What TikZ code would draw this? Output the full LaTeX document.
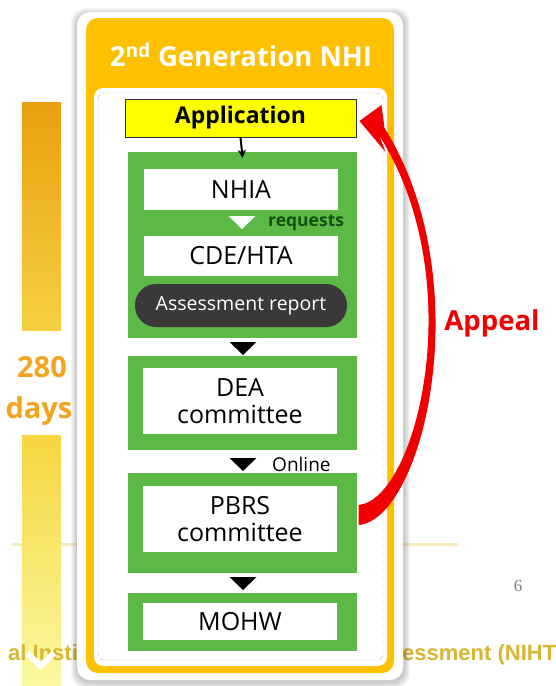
\documentclass[tikz,border=0pt]{standalone}
\usepackage{fontspec}
\setmainfont{Open Sans}
\newfontfamily\footfont{Liberation Sans}
\newfontfamily\pagefont{Liberation Serif}
\usepackage{tikz}
\usetikzlibrary{arrows.meta,calc,positioning}
\definecolor{nhigreen}{RGB}{92,185,70}
\definecolor{nhiorange}{RGB}{255,192,0}
\definecolor{appyellow}{RGB}{255,255,0}
\definecolor{pillgray}{RGB}{58,56,56}
\definecolor{appealred}{RGB}{240,0,0}
\definecolor{daysorange}{RGB}{243,163,30}
\definecolor{reqgreen}{RGB}{20,80,20}
\definecolor{footcol}{RGB}{214,182,50}
\definecolor{rulecol}{RGB}{247,236,190}
\definecolor{bara}{RGB}{232,160,14}
\definecolor{barb}{RGB}{246,208,66}
\definecolor{barc}{RGB}{246,214,64}
\definecolor{bard}{RGB}{250,248,160}
\newcommand{\fsz}[2]{\fontsize{#1}{#2}\selectfont}
\newcommand{\dtri}[3]{\fill[#3] ({#1-13.5},#2) -- ({#1+13.5},#2) -- (#1,{#2+13}) -- cycle;}
\tikzset{gbox/.style={rectangle, fill=nhigreen, minimum width=229pt, minimum height=#1, inner sep=0pt},
         wbox/.style={rectangle, fill=white, minimum width=194pt, minimum height=#1, inner sep=0pt,
            align=center, font=\fsz{25}{27}},
         pill/.style={rectangle, rounded corners=21pt, fill=pillgray, text=white, minimum width=212pt,
            minimum height=43pt, inner sep=0pt, font=\fsz{19.5}{22}},
         days/.style={text=daysorange, font=\bfseries\fsz{29}{31}, inner sep=0pt},
         foot/.style={text=footcol, font=\footfont\bfseries\fsz{22}{24}, inner sep=0pt},
         note/.style={anchor=west, inner sep=0pt, font=\fsz{19}{21}}}

\begin{document}
\begin{tikzpicture}[x=1pt,y=-1pt]
\clip (0,0) rectangle (555,686);
\fill[white] (0,0) rectangle (555,686);
% faint rule behind the panel
\draw[line width=3pt, rulecol] (12,544) -- (458,544);
% 280 days bar
\shade[top color=bara, bottom color=barb] (22,102) rectangle (61,330);
\shade[top color=barc, bottom color=bard] (22,435) rectangle (61,686);
\node[days] (d1) at (42,367) {280};
\node[days] (d2) at (39,411) {days};
\node[foot, anchor=base west] (fl) at (8,660) {al Insti};
\draw[white, line width=6pt] (27,653) -- (40.5,666) -- (54,653);
\node[foot, anchor=base west] (fr) at (402,660) {essment (NIHT};
\node[anchor=base, text=gray, font=\pagefont\fsz{17}{20}, inner sep=0pt] (pg) at (518,591) {6};
% panel
\foreach \d in {1,...,6}
  \fill[black, opacity=0.035, rounded corners=14pt] ({77-\d},{12-\d+2}) rectangle ({403+\d+1},{680+\d+2});
\fill[white, rounded corners=13pt] (77,12) rectangle (403,680);
\fill[nhiorange, rounded corners=12pt] (86,18) rectangle (394,673);
\fill[white, rounded corners=9pt] (94,88) rectangle (387,666);
\draw[gray!55, dash pattern=on 5pt off 3pt, rounded corners=6pt] (98,93) rectangle (383,660);
\node[text=white, font=\bfseries\fsz{27.5}{30}, inner sep=0pt] (head) at (241,55) {2\textsuperscript{nd} Generation NHI};
% flow
\node[draw=black!80, line width=1pt, fill=appyellow, minimum width=231pt, minimum height=38pt, inner sep=0pt,
  font=\bfseries\fsz{23}{25}] (app) at (240.5,118) {Application};
\node[gbox=186pt] (g1) at (242,245) {};
\node[wbox=41pt] (nhia) at (241,189.5) {NHIA};
\node[wbox=40pt] (cde) at (241,256) {CDE/HTA};
\node[pill] (rep) at (241,305.5) {Assessment report};
\node[gbox=94pt] (g2) at (242,403) {};
\node[wbox=66pt] (dea) at (240,401) {DEA\\committee};
\node[gbox=100pt] (g3) at (242,523) {};
\node[wbox=66pt] (pbrs) at (240,519) {PBRS\\committee};
\node[gbox=58pt] (g4) at (242,622) {};
\node[wbox=37pt] (mohw) at (240,621.5) {MOHW};
\dtri{242}{216}{white}
\dtri{243}{342}{black}
\dtri{243}{458}{black}
\dtri{243}{577}{black}
\node[note, text=reqgreen, font=\bfseries\fsz{17.5}{19}] (req) at (268,223) {requests};
\node[note] (onl) at (272,464) {Online};
\draw[-{Stealth[length=8pt,width=8pt]}, line width=2pt, shorten >=-6pt] (app.south) -- (g1.north);
% appeal arrow
\fill[appealred] ($(g3.east)+(2,2)$) .. controls (424,519) and (480,280) .. ($(app.east)+(28,10)$)
  -- ($(app.east)+(25,-13)$) -- ($(app.east)+(3,3)$) -- ($(app.east)+(29,34)$) -- ($(app.east)+(23,18)$)
  .. controls (471,280) and (417,499) .. ($(g3.east)+(2,-18)$) -- cycle;
\node[text=appealred, font=\bfseries\fsz{27.5}{30}, inner sep=0pt] (appeal) at (492,323) {Appeal};
\end{tikzpicture}
\end{document}
